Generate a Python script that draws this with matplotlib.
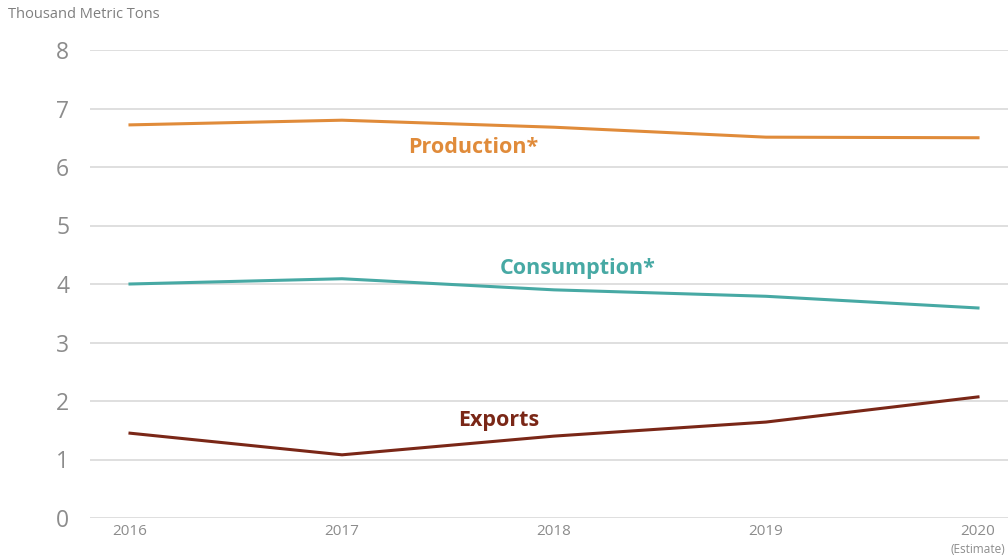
import matplotlib.pyplot as plt
import matplotlib.transforms as mtransforms

years = [2016, 2017, 2018, 2019, 2020]
year_labels = ["2016", "2017", "2018", "2019", "2020"]
production = [6.72, 6.80, 6.68, 6.51, 6.50]
consumption = [4.00, 4.09, 3.90, 3.79, 3.59]
exports = [1.45, 1.08, 1.40, 1.64, 2.07]

c_prod = "#E08B3A"
c_cons = "#47A9A4"
c_exp = "#7A2717"
grey = "#8C8C8C"

plt.rcParams['font.family'] = ['Open Sans', 'DejaVu Sans']

fig = plt.figure(figsize=(10.08, 5.55), dpi=100)
ax = fig.add_axes([90 / 1008, 1 - 518 / 555, 1 - 90 / 1008, (518 - 50) / 555])

ax.plot(years, production, color=c_prod, lw=2.2)
ax.plot(years, consumption, color=c_cons, lw=2.2)
ax.plot(years, exports, color=c_exp, lw=2.2)

ax.set_xlim(2016 - 40 / 212, 2016 + (1008 - 130) / 212)
ax.set_ylim(0, 8)
ax.set_yticks(range(0, 9))
ax.set_xticks(years)
ax.set_xticklabels(year_labels)
ax.yaxis.grid(True, color="#D9D9D9", lw=1.2)
ax.set_axisbelow(True)
for s in ax.spines.values():
    s.set_visible(False)
ax.tick_params(axis='both', length=0, colors=grey)
ax.tick_params(axis='y', labelsize=16.5, pad=15)
ax.tick_params(axis='x', labelsize=11, pad=4)

trans = mtransforms.blended_transform_factory(ax.transData, ax.transAxes)
ax.text(2020, -0.067, "(Estimate)", transform=trans, ha='center', va='center',
        fontsize=8.5, color=grey)

ax.text(2017.62, 6.34, "Production*", color=c_prod, fontsize=15.5, fontweight='bold',
        ha='center', va='center')
ax.text(2018.11, 4.27, "Consumption*", color=c_cons, fontsize=15.5, fontweight='bold',
        ha='center', va='center')
ax.text(2017.74, 1.66, "Exports", color=c_exp, fontsize=15.5, fontweight='bold',
        ha='center', va='center')

fig.text(8 / 1008, 1 - 15 / 555, "Thousand Metric Tons", fontsize=10.5, color="#7F7F7F",
         ha='left', va='center')

fig.savefig("out.png", dpi=100)
